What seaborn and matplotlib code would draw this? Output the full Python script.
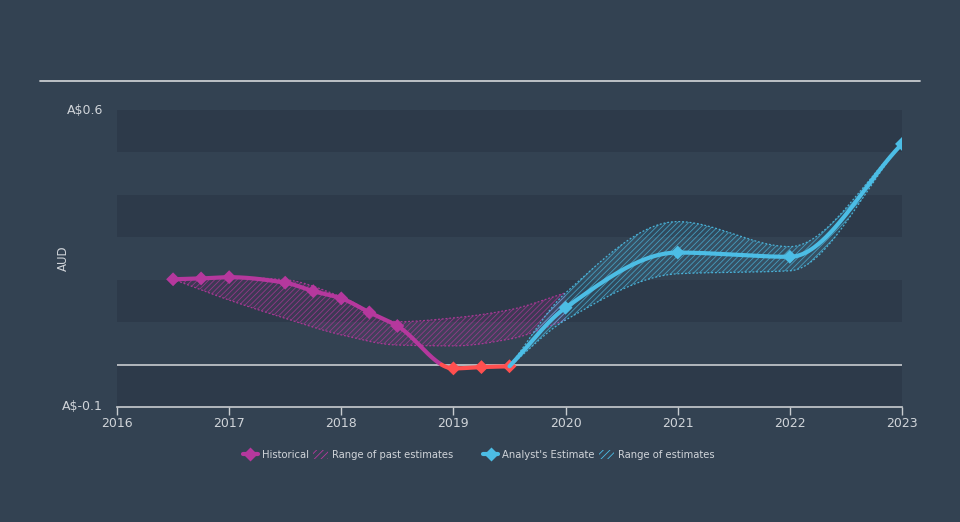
import numpy as np
import pandas as pd
import matplotlib
matplotlib.use("Agg")
import matplotlib.pyplot as plt
import seaborn as sns
from matplotlib.lines import Line2D
from matplotlib.patches import Patch

# ---------------- data ----------------
hist_x = [2016.5, 2016.75, 2017.0, 2017.5, 2017.75, 2018.0, 2018.25, 2018.5, 2019.0, 2019.25, 2019.5]
hist_y = [0.201, 0.203, 0.206, 0.193, 0.173, 0.156, 0.123, 0.091, -0.009, -0.006, -0.004]

past_x = [2016.5, 2017.0, 2017.5, 2018.0, 2018.5, 2019.0, 2019.5, 2020.0]
past_hi = [0.201, 0.206, 0.200, 0.160, 0.101, 0.110, 0.129, 0.169]
past_lo = [0.201, 0.152, 0.109, 0.070, 0.046, 0.044, 0.060, 0.105]

est_x = [2019.5, 2020.0, 2021.0, 2022.0, 2023.0]
est_y = [-0.004, 0.134, 0.264, 0.254, 0.520]
est_hi = [-0.004, 0.169, 0.337, 0.278, 0.520]
est_lo = [-0.004, 0.105, 0.214, 0.221, 0.520]

year_ticks = [2016, 2017, 2018, 2019, 2020, 2021, 2022, 2023]
y_ticks = [0.6, -0.1]
y_tick_labels = ["A$0.6", "A$-0.1"]

# ---------------- style ----------------
BG = "#334252"
DARK = "#2d3a4a"
MAG = "#b5389d"
RED = "#ff4f4f"
CYAN = "#4cbde5"
TXT = "#d0d4d9"
GRID = "#c8ccd0"


def pchip(x, y, n=300):
    x = np.asarray(x, float); y = np.asarray(y, float)
    h = np.diff(x); d = np.diff(y) / h
    m = np.zeros_like(y)
    for k in range(1, len(x) - 1):
        if d[k - 1] * d[k] > 0:
            w1 = 2 * h[k] + h[k - 1]; w2 = h[k] + 2 * h[k - 1]
            m[k] = (w1 + w2) / (w1 / d[k - 1] + w2 / d[k])
    m[0] = d[0]; m[-1] = d[-1]
    xs = np.linspace(x[0], x[-1], n)
    idx = np.clip(np.searchsorted(x, xs) - 1, 0, len(x) - 2)
    t = (xs - x[idx]) / h[idx]
    h00 = 2 * t**3 - 3 * t**2 + 1; h10 = t**3 - 2 * t**2 + t
    h01 = -2 * t**3 + 3 * t**2; h11 = t**3 - t**2
    ys = h00 * y[idx] + h10 * h[idx] * m[idx] + h01 * y[idx + 1] + h11 * h[idx] * m[idx + 1]
    return xs, ys


sns.set_theme(style="dark")
plt.rcParams["font.family"] = ["DejaVu Sans"]
plt.rcParams["hatch.linewidth"] = 0.6

fig = plt.figure(figsize=(9.6, 5.22), dpi=100, facecolor=BG)
ax = fig.add_axes([117 / 960, 1 - 407 / 522, (902 - 117) / 960, (407 - 110) / 522])
ax.set_facecolor(BG)
ax.set_xlim(2016, 2023)
ax.set_ylim(-0.1, 0.6)

# bands
for lo in [0.5, 0.3, 0.1, -0.1]:
    ax.axhspan(lo, lo + 0.1, color=DARK, lw=0, zorder=0)
ax.axhline(0, color=GRID, lw=1.2, zorder=1)

# ranges
def draw_range(x, hi, lo, col, z):
    xs, yh = pchip(x, hi)
    _, yl = pchip(x, lo)
    rgb = matplotlib.colors.to_rgb(col)
    ax.fill_between(xs, yl, yh, facecolor=rgb + (0.12,), edgecolor=rgb + (0.7,),
                    hatch="//////", linewidth=0, zorder=z)
    ax.plot(xs, yh, color=col, lw=0.9, ls=(0, (1.5, 1.5)), alpha=0.9, zorder=z)
    ax.plot(xs, yl, color=col, lw=0.9, ls=(0, (1.5, 1.5)), alpha=0.9, zorder=z)

draw_range(past_x, past_hi, past_lo, MAG, 2)
draw_range(est_x, est_hi, est_lo, CYAN, 3)

# historical line (magenta positive, red negative)
hx, hy = pchip(hist_x, hist_y, 600)
pos = np.where(hy >= 0, hy, np.nan)
neg = np.where(hy <= 0.0, hy, np.nan)
sns.lineplot(x=hx, y=pos, ax=ax, color=MAG, lw=3, zorder=5)
sns.lineplot(x=hx, y=neg, ax=ax, color=RED, lw=3, zorder=5)
hist_df = pd.DataFrame({"x": hist_x, "y": hist_y})
hist_df["c"] = np.where(hist_df["y"] >= 0, "p", "n")
sns.scatterplot(data=hist_df, x="x", y="y", hue="c", palette={"p": MAG, "n": RED},
                marker="D", s=50, edgecolor="none", legend=False, ax=ax, zorder=6)

# estimate line
ex, ey = pchip(est_x, est_y, 400)
sns.lineplot(x=ex, y=ey, ax=ax, color=CYAN, lw=3, zorder=7)
sns.scatterplot(x=est_x[1:], y=est_y[1:], ax=ax, color=CYAN, marker="D", s=50,
                edgecolor="none", zorder=8)

# axes
for s in ["left", "right", "top"]:
    ax.spines[s].set_visible(False)
ax.spines["bottom"].set_color(GRID)
ax.spines["bottom"].set_linewidth(1.2)
ax.set_xticks(year_ticks)
ax.set_xticklabels([str(y) for y in year_ticks])
ax.tick_params(axis="x", colors=GRID, length=6, width=1, direction="out", pad=1,
               labelcolor=TXT, labelsize=9, bottom=True)
ax.set_yticks(y_ticks)
ax.set_yticklabels(y_tick_labels)
ax.tick_params(axis="y", length=0, pad=10, labelcolor=TXT, labelsize=9)
for lab in ax.get_yticklabels():
    lab.set_va("center")
ax.grid(False)
ax.set_xlabel("")
ax.set_ylabel("")

fig.text(63 / 960, 1 - 258 / 522, "AUD", rotation=90, color=TXT, fontsize=8.5,
         ha="center", va="center")

# top rule
fig.add_artist(Line2D([40 / 960, 920 / 960], [1 - 81 / 522] * 2, color=GRID, lw=1.3))

# legends
def hatch_patch(col):
    rgb = matplotlib.colors.to_rgb(col)
    return Patch(facecolor="none", edgecolor=rgb, hatch="/////", linewidth=0)

h1 = [Line2D([], [], color=MAG, lw=3, marker="D", ms=7, mec="none"), hatch_patch(MAG)]
h2 = [Line2D([], [], color=CYAN, lw=3, marker="D", ms=7, mec="none"), hatch_patch(CYAN)]
kw = dict(ncol=2, frameon=False, fontsize=7.2, handlelength=1.5, handletextpad=0.4,
          columnspacing=0.4, labelcolor=TXT, borderpad=0, handleheight=0.9)
l1 = fig.legend(h1, ["Historical", "Range of past estimates"], loc="center right",
                bbox_to_anchor=(458 / 960, 1 - 455 / 522), **kw)
l2 = fig.legend(h2, ["Analyst's Estimate", "Range of estimates"], loc="center left",
                bbox_to_anchor=(478 / 960, 1 - 455 / 522), **kw)

fig.savefig("out.png", dpi=100, facecolor=BG)
